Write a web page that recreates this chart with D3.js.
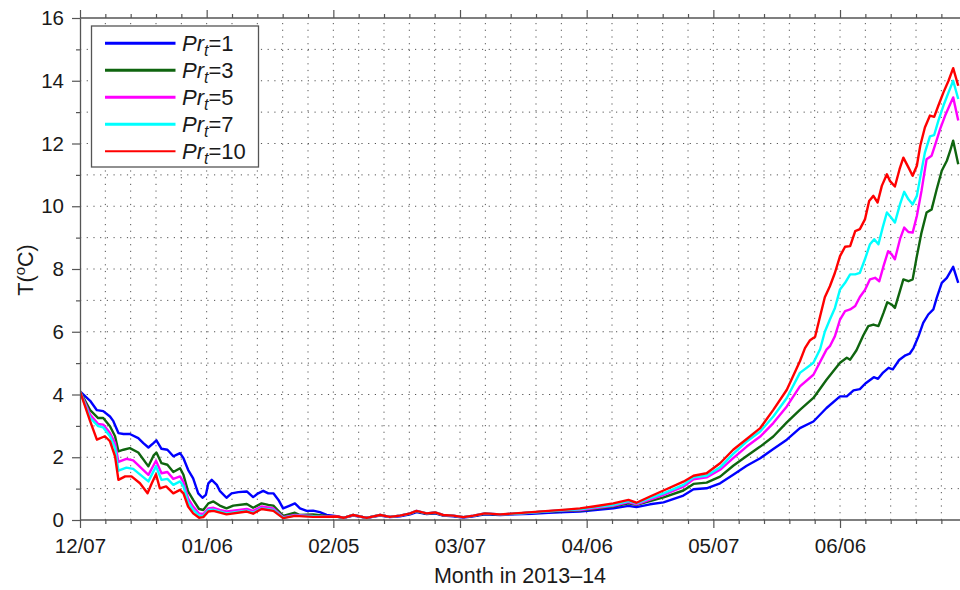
<!DOCTYPE html>
<html>
<head>
<meta charset="utf-8">
<script src="https://cdn.jsdelivr.net/npm/d3@7"></script>
<style>
  body { margin: 0; background: #fff; }
  svg { display: block; font-family: "Liberation Sans", Arial, sans-serif; }
</style>
</head>
<body>
<svg id="chart"></svg>
<script>
// day index from 12/07/2013, temperature in degC
const tickDays = [0, 30, 60, 90, 120, 150, 180];
const tickLabels = ["12/07", "01/06", "02/05", "03/07", "04/06", "05/07", "06/06"];
const yTicks = [0, 2, 4, 6, 8, 10, 12, 14, 16];

const pr1 = [[0,4.1],[2.4,3.8],[4,3.5],[5.5,3.47],[7.1,3.3],[7.9,3.15],[9.1,2.77],[10.3,2.74],[11.8,2.74],[13.8,2.61],[15,2.45],[16.2,2.31],[17.4,2.45],[18.1,2.54],[19.3,2.27],[20.7,2.24],[22.1,2.03],[23.7,2.13],[24.5,1.97],[25.6,1.6],[26.8,1.33],[28,0.85],[29,0.71],[29.8,0.8],[30.4,1.17],[31.2,1.28],[32.4,1.12],[33.1,0.93],[34.7,0.71],[35.9,0.85],[37.5,0.89],[39.5,0.91],[41,0.73],[42.2,0.85],[43.4,0.93],[44.6,0.85],[45.8,0.85],[47,0.64],[48.1,0.37],[49.7,0.46],[50.9,0.53],[52.1,0.37],[53.7,0.29],[55.2,0.3],[56.8,0.25],[58.4,0.16],[60.8,0.12],[62.4,0.07],[64.7,0.14],[67.9,0.07],[71.1,0.14],[73.4,0.09],[75.8,0.12],[78.2,0.18],[79.7,0.25],[82.1,0.19],[84.1,0.21],[86,0.14],[88.4,0.12],[90.8,0.08],[93.2,0.12],[95.9,0.18],[99.5,0.16],[103,0.18],[107,0.2],[111,0.23],[115,0.25],[118.4,0.27],[122,0.32],[126.3,0.37],[129.9,0.45],[131.8,0.41],[135,0.5],[138.2,0.56],[142.9,0.78],[145.3,0.98],[148.4,1.01],[151.6,1.17],[154.7,1.44],[157.9,1.73],[161.1,1.97],[164.2,2.26],[167.4,2.56],[170.5,2.93],[173.7,3.14],[176.8,3.57],[180,3.94],[181.6,3.94],[183.2,4.13],[184.7,4.17],[186,4.35],[188,4.55],[189,4.5],[190.2,4.7],[191.5,4.85],[192.5,4.8],[194,5.1],[195.5,5.25],[196.5,5.3],[197.4,5.48],[198.6,5.86],[199.7,6.28],[200.9,6.55],[202.1,6.71],[202.9,7.08],[204.1,7.56],[205.3,7.72],[206.8,8.07],[208,7.56]];

const pr3 = [[0,4.1],[2.4,3.5],[4.3,3.25],[5.5,3.25],[7.1,2.99],[8.3,2.67],[9.1,2.19],[10.3,2.24],[11.8,2.29],[13.8,2.15],[16.2,1.71],[17.4,2.05],[18.1,2.15],[19.3,1.81],[20.7,1.76],[22.1,1.53],[23.7,1.65],[24.5,1.44],[25.6,0.91],[26.8,0.64],[28.2,0.35],[29.2,0.32],[30.4,0.53],[31.6,0.59],[33.1,0.46],[34.7,0.37],[36.3,0.46],[39.5,0.51],[41,0.39],[43,0.53],[44.6,0.48],[45.8,0.46],[48.1,0.13],[50.9,0.23],[52.1,0.16],[55.2,0.18],[58.4,0.13],[60.8,0.11],[62.4,0.07],[64.7,0.16],[67.9,0.07],[71.1,0.16],[73.4,0.1],[75.8,0.14],[78.2,0.2],[79.7,0.28],[82.1,0.2],[84.1,0.23],[86,0.15],[88.4,0.13],[90.8,0.09],[93.2,0.13],[95.9,0.2],[99.5,0.17],[103,0.2],[107,0.24],[111,0.27],[115,0.29],[118.4,0.3],[122,0.36],[126.3,0.43],[129.9,0.53],[131.8,0.48],[135,0.6],[138.2,0.72],[142.9,0.94],[145.3,1.15],[148.4,1.19],[151.6,1.38],[154.7,1.73],[157.9,2.04],[161.1,2.34],[164.2,2.66],[167.4,3.11],[170.5,3.51],[173.7,3.89],[176.8,4.47],[180,5.01],[181.6,5.17],[182.4,5.11],[183.9,5.41],[185.5,5.88],[186.7,6.18],[187.9,6.23],[189.1,6.18],[190.3,6.6],[191.2,6.94],[192.2,6.87],[193,6.76],[194.2,7.3],[195,7.67],[196.2,7.61],[197.2,7.67],[198.2,8.41],[199.3,9.16],[200.5,9.8],[201.7,9.9],[202.9,10.54],[204.1,11.13],[205.3,11.45],[206.1,11.77],[206.8,12.09],[208,11.34]];

const pr5 = [[0,4.1],[2.4,3.36],[4.3,3.06],[5.5,3.04],[7.1,2.77],[8.3,2.45],[9.1,1.85],[11,1.95],[12.6,1.9],[16.2,1.44],[18,1.89],[19.3,1.49],[20.7,1.53],[22.1,1.31],[23.7,1.39],[24.5,1.21],[25.6,0.69],[26.8,0.43],[28.2,0.21],[29.2,0.19],[30.4,0.37],[31.6,0.39],[33.1,0.32],[34.7,0.27],[39.5,0.35],[41,0.29],[43,0.43],[45.8,0.37],[48.1,0.09],[50.9,0.16],[55.2,0.13],[60.8,0.11],[62.4,0.07],[64.7,0.16],[67.9,0.07],[71.1,0.16],[73.4,0.1],[75.8,0.14],[78.2,0.21],[79.7,0.29],[82.1,0.21],[84.1,0.24],[86,0.16],[88.4,0.14],[90.8,0.09],[93.2,0.14],[95.9,0.21],[99.5,0.18],[103,0.2],[107,0.24],[111,0.28],[115,0.31],[118.4,0.32],[122,0.38],[126.3,0.45],[129.9,0.57],[131.8,0.5],[135,0.65],[138.2,0.8],[142.9,1.06],[145.3,1.3],[148.4,1.36],[151.6,1.6],[154.7,1.97],[157.9,2.34],[161.1,2.66],[164.2,3.09],[167.4,3.62],[170.5,4.26],[173.7,4.63],[176.8,5.43],[177.6,5.54],[178.8,5.86],[180,6.39],[181.2,6.66],[182.4,6.71],[183.6,6.82],[184.7,7.11],[185.9,7.33],[187.1,7.67],[188.3,7.72],[189.3,7.61],[190.3,8.09],[191.4,8.57],[192.2,8.47],[193,8.31],[194.2,8.95],[195.2,9.32],[196.2,9.18],[197.2,9.16],[198.2,9.69],[199.3,10.49],[200.5,11.5],[201.7,11.61],[202.7,12.03],[203.7,12.46],[204.9,12.89],[206.1,13.26],[206.8,13.47],[208,12.73]];

const pr7 = [[0,4.1],[2.4,3.25],[4.3,2.99],[5.5,2.95],[7.1,2.67],[8.3,2.29],[9.1,1.57],[11,1.67],[12.6,1.63],[16.2,1.23],[18,1.71],[19.3,1.28],[20.7,1.31],[22.1,1.12],[23.7,1.23],[24.5,1.07],[25.6,0.56],[26.8,0.32],[28.2,0.14],[29.2,0.13],[30.4,0.32],[31.6,0.33],[34.7,0.21],[39.5,0.3],[41,0.23],[43,0.37],[45.8,0.32],[48.1,0.07],[50.9,0.14],[55.2,0.12],[60.8,0.1],[62.4,0.07],[64.7,0.16],[67.9,0.07],[71.1,0.16],[73.4,0.1],[75.8,0.14],[78.2,0.21],[79.7,0.29],[82.1,0.21],[84.1,0.24],[86,0.16],[88.4,0.14],[90.8,0.09],[93.2,0.14],[95.9,0.21],[99.5,0.18],[103,0.2],[107,0.24],[111,0.28],[115,0.32],[118.4,0.34],[122,0.41],[126.3,0.48],[129.9,0.6],[131.8,0.53],[135,0.7],[138.2,0.85],[142.9,1.12],[145.3,1.36],[148.4,1.41],[151.6,1.68],[154.7,2.11],[157.9,2.5],[161.1,2.82],[164.2,3.3],[167.4,3.89],[170.5,4.69],[173.7,5.01],[175.3,5.45],[176.4,6.0],[177.6,6.39],[178.8,6.76],[180,7.35],[181.2,7.56],[182.4,7.83],[183.6,7.83],[184.7,7.88],[185.9,8.31],[187.1,8.79],[188.1,8.95],[189.1,8.79],[190.1,9.32],[191.1,9.8],[192.1,9.64],[193,9.48],[194.2,10.06],[195.2,10.46],[196.2,10.22],[197.2,10.06],[198.2,10.33],[199,10.92],[200.1,11.71],[201.3,12.23],[202.3,12.27],[203.3,12.73],[204.5,13.21],[205.7,13.63],[206.8,14.0],[208,13.42]];

const pr10 = [[0,4.1],[2.4,3.15],[4,2.56],[5.9,2.67],[7.1,2.51],[8.3,2.03],[9.1,1.28],[10.7,1.39],[12.2,1.39],[14.2,1.17],[16,0.85],[17,1.17],[18,1.46],[18.9,1.01],[20.4,1.07],[22.1,0.85],[23.7,0.96],[24.5,0.85],[25.6,0.43],[26.8,0.21],[28.2,0.07],[29.2,0.09],[30.4,0.27],[31.6,0.29],[34.7,0.18],[39.5,0.27],[41,0.2],[43,0.35],[45.8,0.29],[48.1,0.06],[50.9,0.13],[55.2,0.1],[60.8,0.11],[62.4,0.07],[64.7,0.16],[67.9,0.07],[71.1,0.16],[73.4,0.1],[75.8,0.14],[78.2,0.21],[79.7,0.29],[82.1,0.21],[84.1,0.24],[86,0.16],[88.4,0.14],[90.8,0.09],[93.2,0.14],[95.9,0.21],[99.5,0.18],[103,0.21],[107,0.25],[111,0.29],[115,0.33],[118.4,0.37],[122,0.44],[126.3,0.53],[129.9,0.64],[131.8,0.55],[135,0.75],[138.2,0.94],[142.9,1.22],[145.3,1.41],[148.4,1.49],[151.6,1.81],[154.7,2.24],[157.9,2.58],[161.1,2.93],[164.2,3.51],[167.4,4.15],[170.5,5.06],[171.7,5.48],[172.9,5.73],[174.1,5.84],[175.3,6.5],[176.4,7.1],[177.6,7.45],[178.8,7.88],[180,8.41],[181.2,8.71],[182.4,8.73],[183.6,9.21],[184.7,9.27],[185.9,9.58],[186.9,10.17],[187.9,10.33],[188.9,10.12],[189.9,10.65],[191.1,11.02],[191.8,10.81],[193,10.63],[194.1,11.18],[195,11.55],[196.2,11.24],[197.2,10.97],[198.2,11.29],[199,11.93],[200.1,12.51],[201.3,12.89],[202.3,12.85],[203.3,13.21],[204.5,13.63],[205.7,14.0],[206.8,14.4],[208,13.84]];

const seriesNames = ["1", "3", "5", "7", "10"];
const seriesData = [pr1, pr3, pr5, pr7, pr10];
const seriesColors = ["#0000ff", "#0f650f", "#ff00ff", "#00ffff", "#ff0000"];

const width = 960, height = 590;
const plotLeft = 80, plotBottom = 520, plotTop = 18;

const svg = d3.select("#chart")
    .attr("width", width)
    .attr("height", height);

const x = d3.scaleLinear().domain([0, 210]).range([plotLeft, plotLeft + 7 * 126.67]);
const y = d3.scaleLinear().domain([0, 16]).range([plotBottom, plotTop]);

const minorX = d3.range(6, 210, 6).filter(d => d % 30 !== 0);
const allX = d3.range(6, 210, 6);
const minorY = [1, 3, 5, 7, 9, 11, 13, 15];

// dotted grid
const grid = svg.append("g").attr("stroke", "#555").attr("stroke-width", 1)
    .attr("stroke-dasharray", "1.2,5.5");
grid.selectAll(".gx").data(allX).join("line")
    .attr("x1", d => x(d)).attr("x2", d => x(d))
    .attr("y1", plotBottom).attr("y2", plotTop);
grid.selectAll(".gy").data(d3.range(1, 16)).join("line")
    .attr("x1", plotLeft).attr("x2", width)
    .attr("y1", d => y(d)).attr("y2", d => y(d));

// lines
svg.append("clipPath").attr("id", "clip").append("rect")
    .attr("x", plotLeft).attr("y", plotTop)
    .attr("width", width - plotLeft).attr("height", plotBottom - plotTop);

const line = d3.line().x(d => x(d[0])).y(d => y(d[1]));
svg.append("g").attr("clip-path", "url(#clip)")
    .selectAll("path").data(seriesData).join("path")
    .attr("d", line)
    .attr("fill", "none")
    .attr("stroke", (d, i) => seriesColors[i])
    .attr("stroke-width", 2.4)
    .attr("stroke-linejoin", "round");

// axes
function styleAxis(g) {
    g.select(".domain").attr("stroke", "#555").attr("stroke-width", 1.3);
    g.selectAll(".tick line").attr("stroke", "#555").attr("stroke-width", 1.2);
    g.selectAll(".tick text").attr("fill", "#1a1a1a").attr("font-size", 20.5)
        .attr("font-family", "'Liberation Sans', Arial, sans-serif");
}

svg.append("g").attr("transform", `translate(0,${plotBottom})`)
    .call(d3.axisBottom(x).tickValues(tickDays).tickFormat((d, i) => tickLabels[i])
        .tickSizeInner(8).tickSizeOuter(0).tickPadding(10))
    .call(styleAxis)
    .call(g => g.select(".domain").attr("d", `M${plotLeft},0H${width}`));
svg.append("g").attr("transform", `translate(0,${plotBottom})`)
    .call(d3.axisBottom(x).tickValues(minorX).tickFormat("").tickSizeInner(4).tickSizeOuter(0))
    .call(styleAxis)
    .call(g => g.select(".domain").remove());

svg.append("g").attr("transform", `translate(0,${plotTop})`)
    .call(d3.axisTop(x).tickValues(tickDays).tickFormat("").tickSizeInner(8).tickSizeOuter(0))
    .call(styleAxis)
    .call(g => g.select(".domain").attr("d", `M${plotLeft},0H${width}`));
svg.append("g").attr("transform", `translate(0,${plotTop})`)
    .call(d3.axisTop(x).tickValues(minorX).tickFormat("").tickSizeInner(4).tickSizeOuter(0))
    .call(styleAxis)
    .call(g => g.select(".domain").remove());

svg.append("g").attr("transform", `translate(${plotLeft},0)`)
    .call(d3.axisLeft(y).tickValues(yTicks).tickSizeInner(8).tickSizeOuter(0).tickPadding(8))
    .call(styleAxis);
svg.append("g").attr("transform", `translate(${plotLeft},0)`)
    .call(d3.axisLeft(y).tickValues(minorY).tickFormat("").tickSizeInner(4).tickSizeOuter(0))
    .call(styleAxis)
    .call(g => g.select(".domain").remove());

// axis titles
svg.append("text")
    .attr("x", 520).attr("y", 583)
    .attr("text-anchor", "middle")
    .attr("font-size", 21.5)
    .attr("fill", "#1a1a1a")
    .text("Month in 2013\u201314");

const yl = svg.append("text")
    .attr("transform", "translate(32.5,270) rotate(-90)")
    .attr("text-anchor", "middle")
    .attr("font-size", 21.5)
    .attr("fill", "#1a1a1a");
yl.append("tspan").text("T(");
yl.append("tspan").attr("font-size", 15).attr("dy", -8).text("o");
yl.append("tspan").attr("dy", 8).text("C)");

// legend
const legend = svg.append("g");
legend.append("rect")
    .attr("x", 91.5).attr("y", 26).attr("width", 167).attr("height", 141)
    .attr("fill", "#fff").attr("stroke", "#555").attr("stroke-width", 1.3);

const items = legend.selectAll(".item").data(seriesNames).join("g")
    .attr("transform", (d, i) => `translate(0,${43.3 + i * 27})`);
items.append("line")
    .attr("x1", 105).attr("x2", 175.5)
    .attr("stroke", (d, i) => seriesColors[i])
    .attr("stroke-width", (d, i) => i === 4 ? 2 : 3);
const lt = items.append("text")
    .attr("x", 182).attr("y", 7.5)
    .attr("font-size", 22)
    .attr("fill", "#1a1a1a");
lt.append("tspan").attr("font-style", "italic").text("Pr");
lt.append("tspan").attr("font-style", "italic").attr("font-size", 16).attr("dy", 5).text("t");
lt.append("tspan").attr("dy", -5).text(d => "=" + d);
</script>
</body>
</html>
